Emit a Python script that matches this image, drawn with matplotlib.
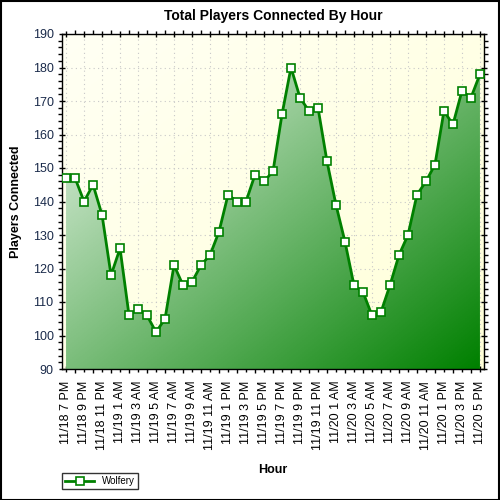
import numpy as np
import matplotlib
matplotlib.use('Agg')
import matplotlib.pyplot as plt
from matplotlib.colors import LinearSegmentedColormap
from matplotlib.patches import Polygon
from matplotlib.ticker import MultipleLocator

# --- data ---
hour_labels = ['11/18 7 PM', '11/18 9 PM', '11/18 11 PM', '11/19 1 AM', '11/19 3 AM',
               '11/19 5 AM', '11/19 7 AM', '11/19 9 AM', '11/19 11 AM', '11/19 1 PM',
               '11/19 3 PM', '11/19 5 PM', '11/19 7 PM', '11/19 9 PM', '11/19 11 PM',
               '11/20 1 AM', '11/20 3 AM', '11/20 5 AM', '11/20 7 AM', '11/20 9 AM',
               '11/20 11 AM', '11/20 1 PM', '11/20 3 PM', '11/20 5 PM']
players = [147, 147, 140, 145, 136, 118, 126, 106, 108, 106,
           101, 105, 121, 115, 116, 121, 124, 131, 142, 140,
           140, 148, 146, 149, 166, 180, 171, 167, 168, 152,
           139, 128, 115, 113, 106, 107, 115, 124, 130, 142,
           146, 151, 167, 163, 173, 171, 178]
series_name = 'Wolfery'

hours = np.arange(len(players))
ymin, ymax = 90, 190

fig = plt.figure(figsize=(5, 5), dpi=100)
ax = fig.add_axes([0.124, 0.262, 0.844, 0.67])
ax.set_xlim(-0.45, len(players) - 0.55)
ax.set_ylim(ymin, ymax)

# background gradient (white-ish to light yellow)
bg = LinearSegmentedColormap.from_list('bg', ['#fffff4', '#ffffd8'])
gx, gy = np.meshgrid(np.linspace(0, 1, 200), np.linspace(0, 1, 200))
ax.imshow((gx + gy) / 2, cmap=bg, extent=[*ax.get_xlim(), ymin, ymax],
          aspect='auto', origin='upper', zorder=0)

# grid
ax.set_xticks(hours[::2])
ax.set_xticks(hours, minor=True)
ax.yaxis.set_major_locator(MultipleLocator(10))
ax.yaxis.set_minor_locator(MultipleLocator(2))
ax.grid(True, which='major', color='#c8c8c8', linestyle=(0, (1, 3)), linewidth=0.8, zorder=1)

# gradient area fill clipped to the area under the line (light top-left, dark bottom-right)
fill = LinearSegmentedColormap.from_list('fill', ['#f4faf4', '#008000'])
grad = ax.imshow((gx + gy) / 2, cmap=fill, aspect='auto', origin='upper',
                 extent=[0, hours[-1], ymin, ymax], zorder=2)
verts = [(0, ymin)] + list(zip(hours, players)) + [(hours[-1], ymin)]
poly = Polygon(verts, closed=True, facecolor='none', edgecolor='none',
               transform=ax.transData)
ax.add_patch(poly)
grad.set_clip_path(poly)

ax.plot(hours, players, color='#008000', linewidth=2, marker='s', markersize=5.5,
        markerfacecolor='white', markeredgecolor='#008000', markeredgewidth=1.2,
        label=series_name, zorder=3)

# ticks
ax.set_xticklabels(hour_labels, rotation=90, fontsize=9, family='Liberation Sans')
ax.tick_params(axis='y', labelsize=9, labelcolor='#1a2a4a')
for lab in ax.get_yticklabels():
    lab.set_family('Liberation Sans')
ax.tick_params(which='major', length=5, width=1, direction='inout', top=True, right=True)
ax.tick_params(which='minor', length=3, width=1, direction='out', top=True, right=True)
ax.tick_params(axis='x', which='both', top=True, labeltop=False)
ax.tick_params(axis='x', which='major', pad=6)

for s in ax.spines.values():
    s.set_linewidth(1)
    s.set_color('black')

ax.set_title('Total Players Connected By Hour', fontsize=10, fontweight='bold',
             family='Liberation Sans', pad=10)
ax.set_ylabel('Players Connected', fontsize=9, fontweight='bold', family='Liberation Sans', labelpad=8)
ax.set_xlabel('Hour', fontsize=9, fontweight='bold', family='Liberation Sans', labelpad=10)

leg = fig.legend(loc='lower left', bbox_to_anchor=(0.115, 0.012), fontsize=7,
                 frameon=True, fancybox=False, edgecolor='black', borderpad=0.3,
                 handlelength=3, prop={'family': 'Liberation Sans', 'size': 7})
leg.get_frame().set_linewidth(1)

# outer border
fig.patches.append(plt.Rectangle((0.001, 0.001), 0.997, 0.997, transform=fig.transFigure,
                                 fill=False, edgecolor='black', linewidth=1.5))

fig.savefig('out.png', dpi=100)
